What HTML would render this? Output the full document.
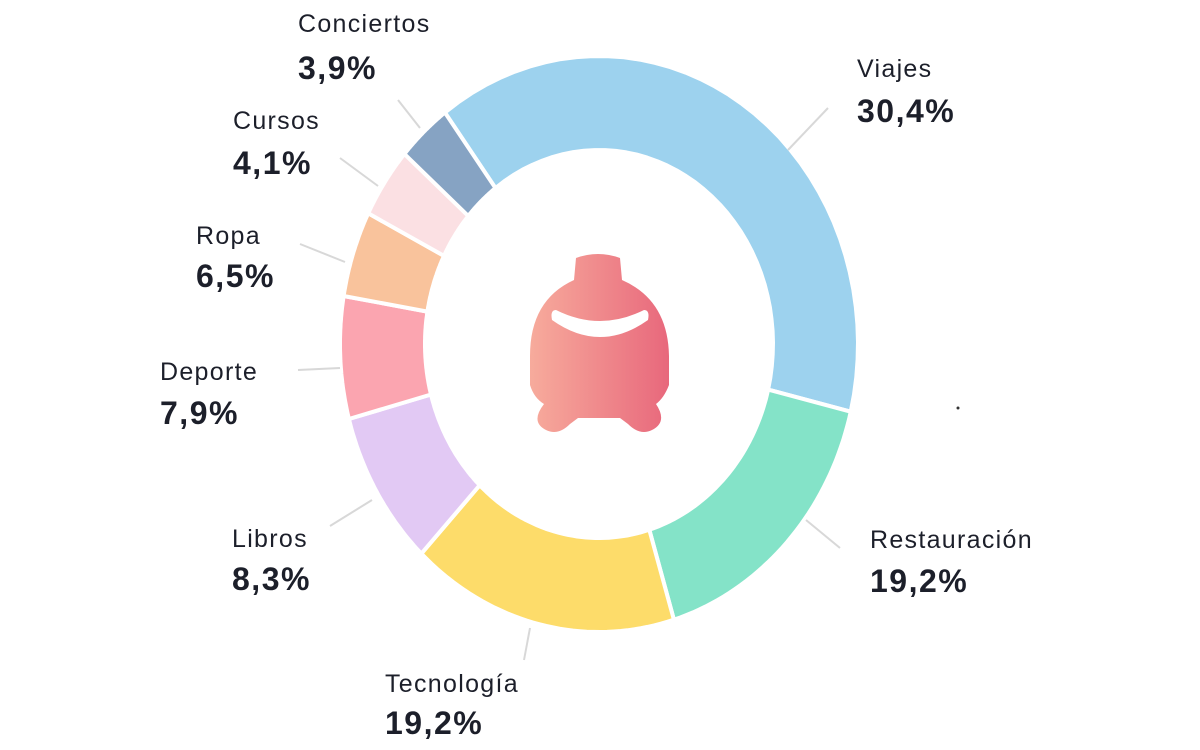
<!DOCTYPE html>
<html><head><meta charset="utf-8"><style>
html,body{margin:0;padding:0;background:#fff;}
body{width:1200px;height:750px;overflow:hidden;position:relative;font-family:"Liberation Sans","DejaVu Sans",sans-serif;color:#1c1f2a;}
.l{position:absolute;line-height:1;white-space:nowrap;}
.n{font-size:25px;letter-spacing:1.3px;}
.p{font-size:32px;font-weight:bold;letter-spacing:1.5px;}
svg{position:absolute;left:0;top:0;}
</style></head><body>
<svg id="s" width="1200" height="750" viewBox="0 0 1200 750">
<defs><linearGradient id="g" x1="0" x2="1" y1="0" y2="0"><stop offset="0" stop-color="#f7ab9c"/><stop offset="1" stop-color="#e8687c"/></linearGradient></defs>
<g id="ring"></g>
<g stroke="#d8d8d8" stroke-width="2">
<line x1="398" y1="100" x2="420" y2="128"/>
<line x1="340" y1="158" x2="378" y2="186"/>
<line x1="300" y1="244" x2="345" y2="262"/>
<line x1="298" y1="370" x2="340" y2="368"/>
<line x1="330" y1="526" x2="372" y2="500"/>
<line x1="788" y1="150" x2="828" y2="108"/>
<line x1="806" y1="520" x2="840" y2="548"/>
<line x1="530" y1="628" x2="524" y2="660"/>
</g>
<circle cx="958" cy="408" r="1.5" fill="#333"/>
<g fill="url(#g)">
<path d="M576 258 Q598 250 620 258 L622 280 Q668 300 669 356 L669 385 Q664 398 656 404 Q668 422 652 430 Q640 436 628 424 L620 418 L578 418 L570 424 Q558 436 546 430 Q530 422 544 404 Q534 398 530 385 L530 356 Q530 300 574 280 Z"/>
</g>
<path d="M556 310 Q600 332 644 310 Q650 310 648 320 Q600 354 552 320 Q550 310 556 310 Z" fill="#fff"/>
</svg>
<div class="l n" style="left:298px;top:12px">Conciertos</div><div class="l p" style="left:298px;top:52px">3,9%</div>
<div class="l n" style="left:857px;top:57px">Viajes</div><div class="l p" style="left:857px;top:95px">30,4%</div>
<div class="l n" style="left:233px;top:109px">Cursos</div><div class="l p" style="left:233px;top:147px">4,1%</div>
<div class="l n" style="left:196px;top:224px">Ropa</div><div class="l p" style="left:196px;top:260px">6,5%</div>
<div class="l n" style="left:160px;top:360px">Deporte</div><div class="l p" style="left:160px;top:397px">7,9%</div>
<div class="l n" style="left:232px;top:527px">Libros</div><div class="l p" style="left:232px;top:563px">8,3%</div>
<div class="l n" style="left:870px;top:528px">Restauración</div><div class="l p" style="left:870px;top:565px">19,2%</div>
<div class="l n" style="left:385px;top:672px">Tecnología</div><div class="l p" style="left:385px;top:707px">19,2%</div>
<script>
var cx=599,cy=344,rx=259,ry=288,ix=174,iy=194;
var segs=[[-36.5,103.6,"#9dd2ee"],[103.6,163.2,"#84e3c8"],[163.2,223.3,"#fddc6a"],[223.3,254.9,"#e2c9f4"],[254.9,279.6,"#fba5b0"],[279.6,297,"#f9c39c"],[297,311.3,"#fbe0e3"],[311.3,323.5,"#86a3c3"]];
function pt(a,x,y){var r=a*Math.PI/180;return [cx+x*Math.sin(r),cy-y*Math.cos(r)];}
var h="";
segs.forEach(function(s){var a=s[0],b=s[1],d="",n=40,i,p;
for(i=0;i<=n;i++){p=pt(a+(b-a)*i/n,rx,ry);d+=(i?"L":"M")+p[0].toFixed(1)+" "+p[1].toFixed(1);}
for(i=n;i>=0;i--){p=pt(a+(b-a)*i/n,ix,iy);d+="L"+p[0].toFixed(1)+" "+p[1].toFixed(1);}
h+='<path d="'+d+'Z" fill="'+s[2]+'" stroke="#fff" stroke-width="4" stroke-linejoin="round"/>';});
document.getElementById("ring").innerHTML=h;
</script>
</body></html>
